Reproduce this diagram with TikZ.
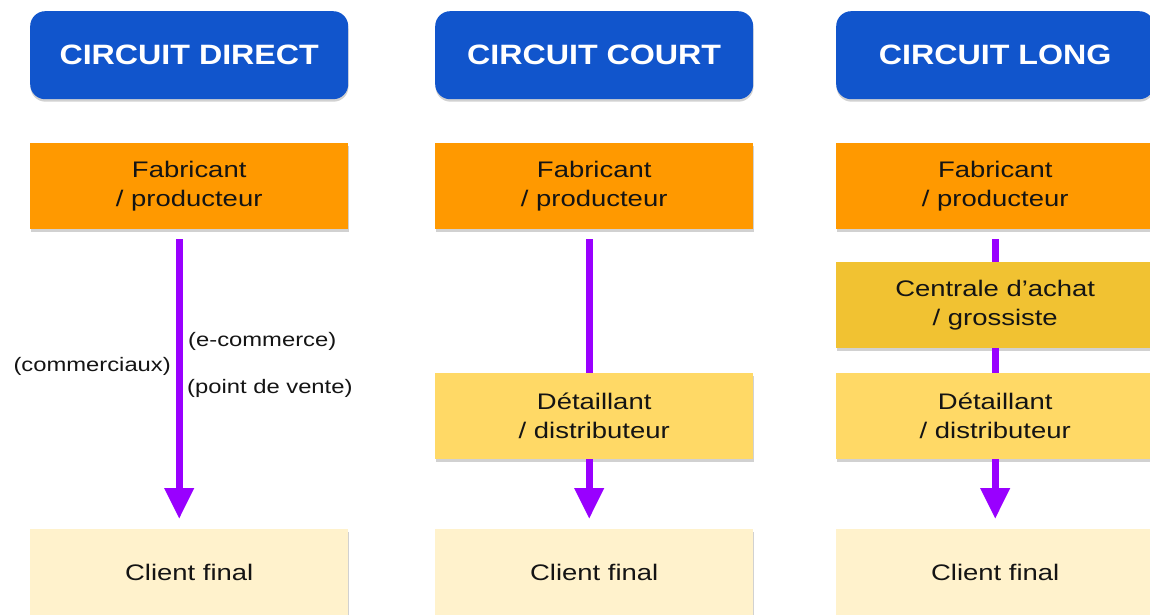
\documentclass[tikz,border=0pt]{standalone}
\usepackage{fontspec}
\setmainfont{Liberation Sans}[FakeStretch=1.22]
\newfontfamily\headfont{Liberation Sans}[FakeStretch=1.15]
\usetikzlibrary{arrows.meta,shadows}

\definecolor{hblue}{HTML}{1155CC}
\definecolor{fabcol}{HTML}{FF9900}
\definecolor{grocol}{HTML}{F1C232}
\definecolor{detcol}{HTML}{FFD966}
\definecolor{clicol}{HTML}{FFF2CC}
\definecolor{flow}{HTML}{9900FF}
\definecolor{ink}{HTML}{141414}

\begin{document}
\begin{tikzpicture}[x=1pt,y=-1pt,
  boxshadow/.style={drop shadow={opacity=0.18,shadow xshift=0.3pt,shadow yshift=-2.5pt,fill=black}},
  base/.style={anchor=north west,minimum width=318pt,minimum height=86pt,inner sep=0pt,
    align=center,text=ink,font=\fontsize{22.5}{29}\selectfont,boxshadow},
  head/.style={base,minimum height=88pt,rounded corners=15pt,fill=hblue,text=white,
    font=\headfont\bfseries\fontsize{28}{34}\selectfont},
  fab/.style={base,fill=fabcol},
  gros/.style={base,fill=grocol},
  det/.style={base,fill=detcol},
  cli/.style={base,fill=clicol},
  lbl/.style={text=ink,inner sep=0pt,font=\fontsize{19.5}{24}\selectfont},
  link/.style={draw=flow,line width=7pt},
  arr/.style={link,-{Triangle[width=28pt,length=31pt]}}]

\useasboundingbox (0,0) rectangle (1150,615);
\clip (0,0) rectangle (1150,615);

% headers
\node[head] (h1) at (30,11)  {CIRCUIT DIRECT};
\node[head] (h2) at (435,11) {CIRCUIT COURT};
\node[head] (h3) at (836,11) {CIRCUIT LONG};

% circuit direct
\node[fab] (f1) at (30,143)  {Fabricant\\/ producteur};
\node[cli] (c1) at (30,529)  {Client final};

% circuit court
\node[fab] (f2) at (435,143) {Fabricant\\/ producteur};
\node[det] (d2) at (435,373) {Détaillant\\/ distributeur};
\node[cli] (c2) at (435,529) {Client final};

% circuit long
\node[fab]  (f3) at (836,143) {Fabricant\\/ producteur};
\node[gros] (g3) at (836,262) {Centrale d’achat\\/ grossiste};
\node[det]  (d3) at (836,373) {Détaillant\\/ distributeur};
\node[cli]  (c3) at (836,529) {Client final};

% flows
\draw[arr,shorten <=10pt,shorten >=10pt] ([xshift=-10pt]f1.south) -- ([xshift=-10pt]c1.north);

\draw[link,shorten <=10pt] ([xshift=-5pt]f2.south) -- ([xshift=-5pt]d2.north);
\draw[arr,shorten >=10pt] ([xshift=-5pt]d2.south) -- ([xshift=-5pt]c2.north);

\draw[link,shorten <=10pt] (f3.south) -- (g3.north);
\draw[link] (g3.south) -- (d3.north);
\draw[arr,shorten >=10pt] (d3.south) -- (c3.north);

% channel labels of the direct circuit
\node[lbl,anchor=west] (l1) at (188,341) {(e-commerce)};
\node[lbl,anchor=east] (l2) at (171,366) {(commerciaux)};
\node[lbl,anchor=west] (l3) at (187,388) {(point de vente)};
\end{tikzpicture}
\end{document}
